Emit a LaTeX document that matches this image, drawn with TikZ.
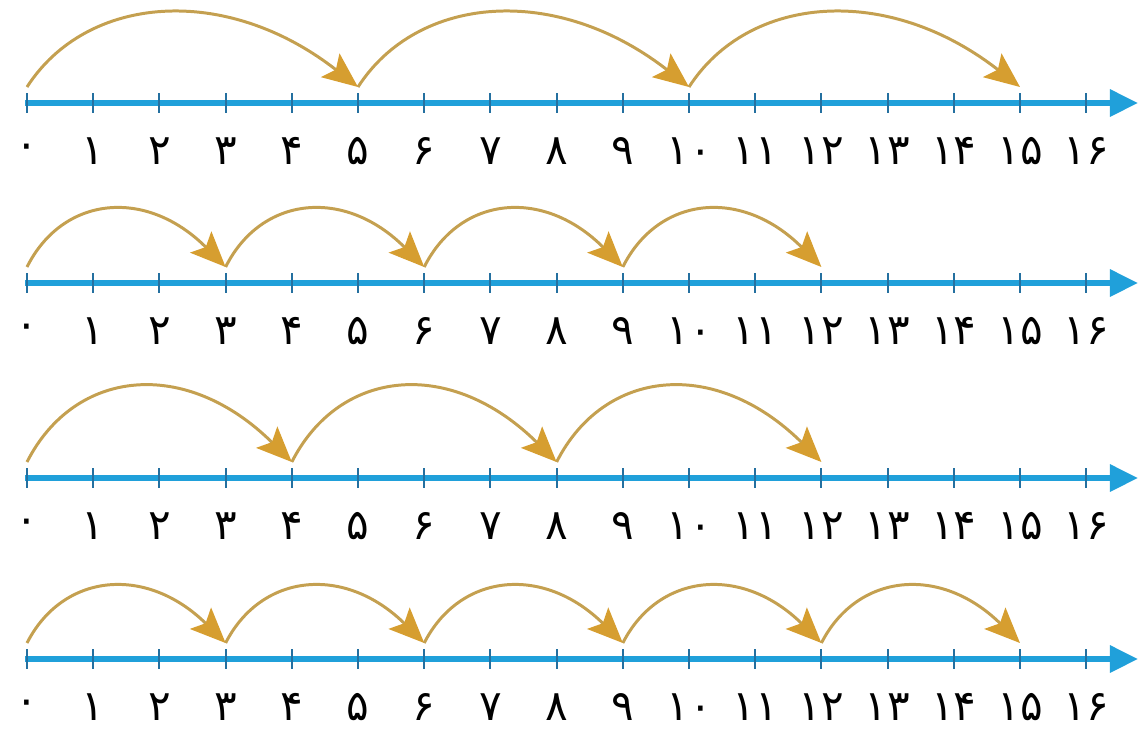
\documentclass[tikz,border=0pt]{standalone}
\usepackage{fontspec}
\newfontfamily\digitfont[Script=Arabic]{DejaVu Sans}
\usepackage{tikz}
\usetikzlibrary{arrows.meta,calc}
\definecolor{lineblue}{RGB}{32,160,218}
\definecolor{tickblue}{RGB}{36,112,160}
\definecolor{jumpgold}{RGB}{196,160,80}
\definecolor{tipgold}{RGB}{214,158,48}

\begin{document}
\begin{tikzpicture}[x=0.02cm, y=-0.02cm,
  numline/.style={line width=3pt, draw=lineblue, -{Triangle[length=16pt,width=15pt]}},
  tickmark/.style={line width=1.1pt, draw=tickblue},
  numlabel/.style={inner sep=0pt, font=\digitfont\fontsize{24}{26}\selectfont},
  jump/.style={line width=1.7pt, draw=jumpgold,
    -{Stealth[length=20pt,width=17pt,inset=4pt,fill=tipgold,color=tipgold]}}]
\useasboundingbox (0,0) rectangle (1140,728);
% four number lines: row / height of line / step / last point / height of hop
\foreach \row/\ly/\stp/\last/\hgt in {1/103/5/15/74, 2/283/3/12/57, 3/478/4/12/75, 4/659/3/15/56} {
  \coordinate (start\row) at (25,\ly);
  \coordinate (end\row) at (1138,\ly);
  \draw[numline] (start\row) -- (end\row);
  % ticks and digits
  \foreach \k/\lab in {0/۰,1/۱,2/۲,3/۳,4/۴,5/۵,6/۶,7/۷,8/۸,9/۹,10/۱۰,11/۱۱,12/۱۲,13/۱۳,14/۱۴,15/۱۵,16/۱۶} {
    \coordinate (p\row-\k) at ({27+66.2*\k},\ly);
    \coordinate (h\row-\k) at ($(p\row-\k)+(0,-16)$);
    \draw[tickmark] ($(p\row-\k)+(0,-10)$) -- ($(p\row-\k)+(0,10)$);
    \node[numlabel] (lab\row-\k) at ($(p\row-\k)+(0,48)$) {\lab};
  }
  % hops
  \pgfmathtruncatemacro\lastm{\last-\stp}
  \foreach \a in {0,\stp,...,\lastm} {
    \pgfmathtruncatemacro\b{\a+\stp}
    \draw[jump] (h\row-\a)
      .. controls ($(h\row-\a)!0.18!(h\row-\b)+(0,{-1.25*\hgt})$)
         and ($(h\row-\a)!0.6!(h\row-\b)+(0,{-1.4*\hgt})$) .. (h\row-\b);
  }
}
\end{tikzpicture}
\end{document}
